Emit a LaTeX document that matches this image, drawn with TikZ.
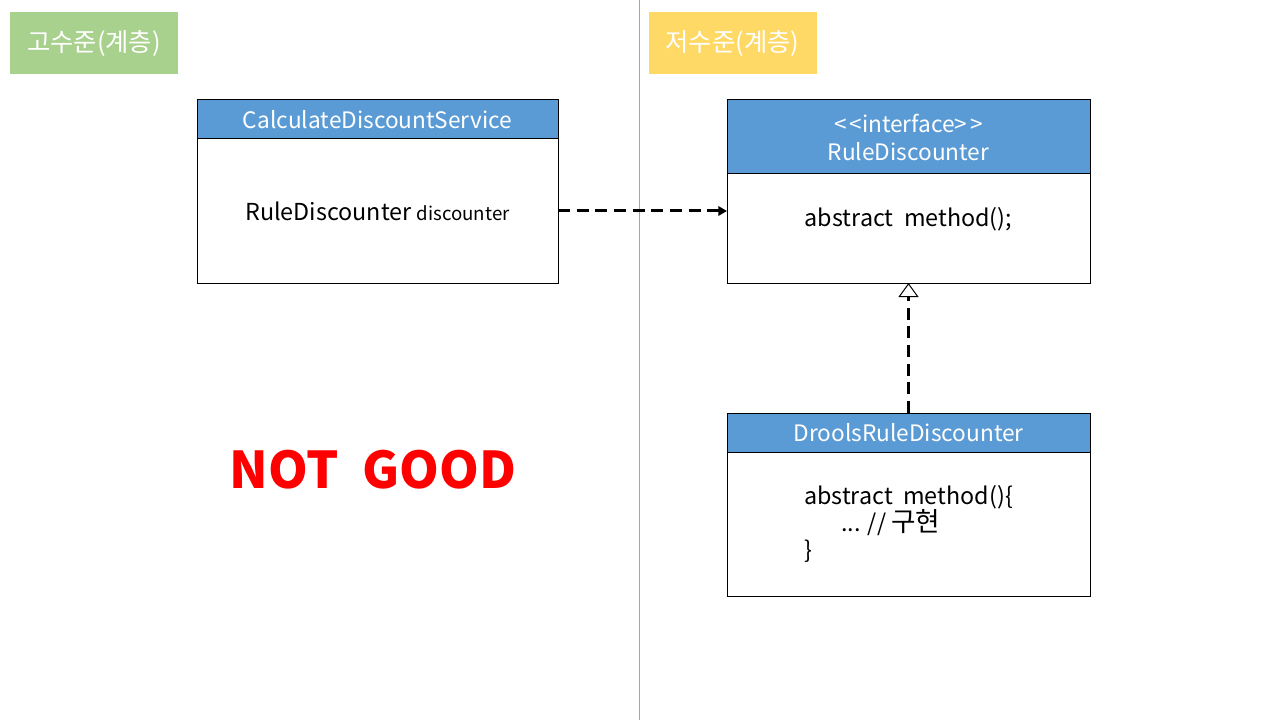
\documentclass[tikz,border=0pt]{standalone}
\usepackage{fontspec}
\setmainfont{Noto Sans CJK KR}
\usetikzlibrary{arrows.meta,positioning}
\definecolor{hdrblue}{HTML}{5B9BD5}
\definecolor{lvlgreen}{HTML}{A9D18E}
\definecolor{lvlyellow}{HTML}{FFD966}
\definecolor{sepgray}{HTML}{A6A6A6}

\begin{document}
\begin{tikzpicture}[x=0.75pt,y=-0.75pt,
  level/.style={minimum width=126pt,minimum height=46.5pt,inner sep=0pt,text=white,font=\fontsize{19}{22}\selectfont},
  head/.style={draw,line width=0.75pt,fill=hdrblue,text=white,outer sep=0pt,inner sep=0pt,anchor=north west,align=center,font=\fontsize{17}{21}\selectfont},
  body/.style={draw,line width=0.75pt,fill=white,outer sep=0pt,inner sep=0pt,font=\fontsize{17.5}{20.25}\selectfont},
  dep/.style={line width=2.25pt,dash pattern=on 9pt off 5pt},
]
\path[use as bounding box,fill=white] (0,0) rectangle (1280,720);

% layer labels and divider
\node[level,fill=lvlgreen] (high) at (94,43) {고수준(계층)};
\node[level,fill=lvlyellow] (low) at (732.5,43) {저수준(계층)};
\draw[sepgray,line width=0.75pt] (639,0) -- (639,720);

% high level class
\node[head,minimum width=270.75pt,minimum height=29.25pt] (svcHead) at (197,100) {CalculateDiscountService};
\node[body,minimum width=270.75pt,minimum height=108pt,below=0pt of svcHead] (svcBody)
  {RuleDiscounter {\fontsize{14}{16}\selectfont discounter}};

% low level interface and implementation
\node[head,minimum width=272.25pt,minimum height=55.5pt] (ruleHead) at (727,100)
  {<\kern2pt<interface>\kern2pt>\\RuleDiscounter};
\node[body,minimum width=272.25pt,minimum height=81.75pt,text depth=17pt,below=0pt of ruleHead] (ruleBody)
  {abstract\ \ method();};
\node[head,minimum width=272.25pt,minimum height=29.25pt] (droolsHead) at (727,413) {DroolsRuleDiscounter};
\node[body,minimum width=272.25pt,minimum height=108pt,align=left,below=0pt of droolsHead] (droolsBody)
  {abstract\ \ method()\{\\\hspace*{1.6em}... // {\fontsize{20}{20}\selectfont 구현}\\\}};

\node[text=red,font=\bfseries\fontsize{38}{46}\selectfont] (verdict) at (373,470) {NOT\ \ GOOD};

% dependencies
\draw[dep,-{Triangle[length=6.5pt,width=7pt]}] (svcBody.east) -- (svcBody.east -| ruleBody.west);
\draw[dep,-{Triangle[open,fill=white,length=10.5pt,width=15pt,line width'=0.75pt]}] (droolsHead.north) -- (ruleBody.south);
\end{tikzpicture}
\end{document}
